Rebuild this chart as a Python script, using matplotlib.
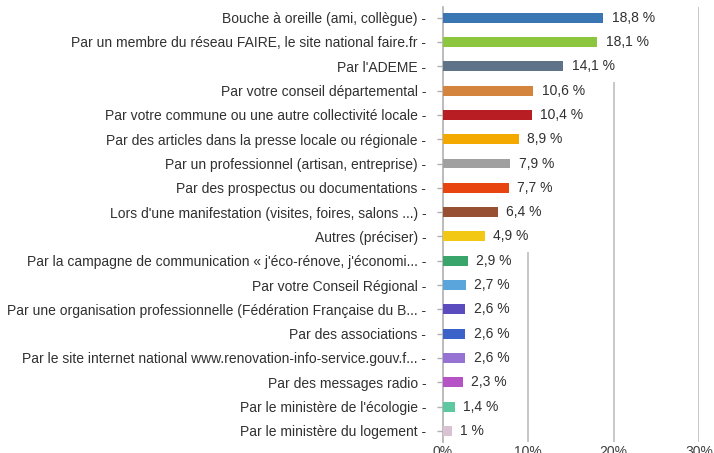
import matplotlib
matplotlib.use("Agg")
import matplotlib.pyplot as plt

categories = [
    "Bouche à oreille (ami, collègue)",
    "Par un membre du réseau FAIRE, le site national faire.fr",
    "Par l'ADEME",
    "Par votre conseil départemental",
    "Par votre commune ou une autre collectivité locale",
    "Par des articles dans la presse locale ou régionale",
    "Par un professionnel (artisan, entreprise)",
    "Par des prospectus ou documentations",
    "Lors d'une manifestation (visites, foires, salons ...)",
    "Autres (préciser)",
    "Par la campagne de communication « j'éco-rénove, j'économi...",
    "Par votre Conseil Régional",
    "Par une organisation professionnelle (Fédération Française du B...",
    "Par des associations",
    "Par le site internet national www.renovation-info-service.gouv.f...",
    "Par des messages radio",
    "Par le ministère de l'écologie",
    "Par le ministère du logement",
]
values = [18.8, 18.1, 14.1, 10.6, 10.4, 8.9, 7.9, 7.7, 6.4, 4.9, 2.9, 2.7, 2.6, 2.6, 2.6, 2.3, 1.4, 1.0]
colors = ["#3b76b4", "#8cc63e", "#5f7388", "#d4843c", "#b81d24", "#f4a900",
          "#a0a0a0", "#e8440f", "#985033", "#f2c814", "#3aa56a", "#5aa6dc",
          "#5a4cbe", "#3a62c8", "#9672d2", "#b452c6", "#5ec8a0", "#d9c2d2"]
xticks = [0, 10, 20, 30]
xticklabels = ["0%", "10%", "20%", "30%"]

def fmt(v):
    s = ("%.1f" % v).replace(".", ",")
    if s.endswith(",0"):
        s = s[:-2]
    return s + " %"

plt.rcParams['font.family'] = ['Liberation Sans', 'DejaVu Sans']
fig = plt.figure(figsize=(7.14, 4.53), dpi=100)
ax = fig.add_axes([443/714, 1-442/453, (699-443)/714, (442-7)/453])

n = len(categories)
ypos = list(range(n))
ax.barh(ypos, values, height=0.41, color=colors, zorder=3)
ax.set_ylim(n - 1 + 0.46, -0.44)
ax.set_xlim(0, 30)
ax.set_yticks(ypos)
ax.set_yticklabels([c + " -" for c in categories], fontsize=10, color="#303030")
ax.set_xticks(xticks)
ax.set_xticklabels(xticklabels, fontsize=10, color="#404040")
ax.tick_params(axis='y', length=4, width=1, color="#b0b0b0", pad=8)
ax.tick_params(axis='x', length=0, pad=2)
for s in ["top", "right", "bottom"]:
    ax.spines[s].set_visible(False)
ax.spines["left"].set_color("#b0b0b0")
ax.spines["left"].set_linewidth(1.2)

texts = []
for i, v in enumerate(values):
    t = ax.annotate(fmt(v), (v, i), xytext=(6, 0), textcoords="offset points",
                    va="center", ha="left", fontsize=10, color="#303030", zorder=4)
    texts.append(t)

fig.canvas.draw()
r = fig.canvas.get_renderer()
inv = ax.transData.inverted()
for g in xticks[1:]:
    last = -1
    for i, t in enumerate(texts):
        bb = t.get_window_extent(r)
        x0 = inv.transform((bb.x0, bb.y0))[0]
        x1 = inv.transform((bb.x1, bb.y0))[0]
        if x0 <= g <= x1:
            last = i
    start = last + 0.65 if last >= 0 else -0.44
    ax.vlines(g, n - 1 + 0.46, start, color="#c8c8c8", linewidth=1.4, zorder=1)

fig.savefig("out.png", dpi=100)
